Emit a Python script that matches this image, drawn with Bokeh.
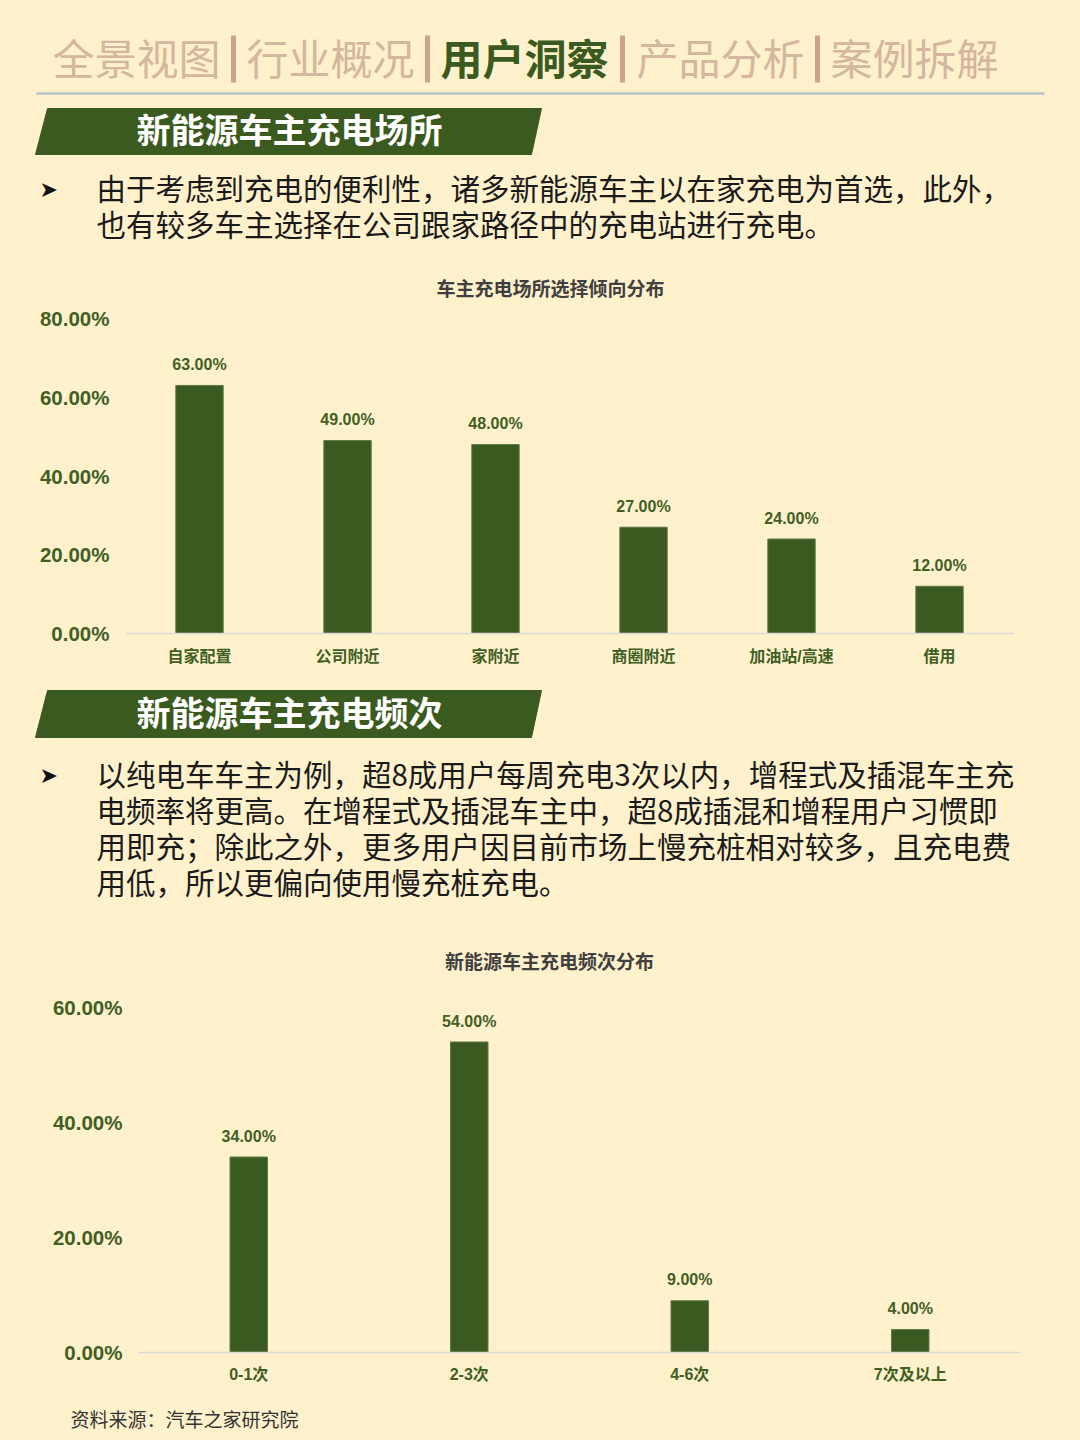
from bokeh.plotting import figure
from bokeh.layouts import column
from bokeh.models import Range1d, FactorRange, FixedTicker, PrintfTickFormatter
from bokeh.core.properties import value
from bokeh.embed import file_html
from bokeh.resources import INLINE

# ---------------- data ----------------
nav_items = ["全景视图", "行业概况", "用户洞察", "产品分析", "案例拆解"]
nav_active = "用户洞察"

section1_title = "新能源车主充电场所"
section1_text = ["由于考虑到充电的便利性，诸多新能源车主以在家充电为首选，此外，",
                 "也有较多车主选择在公司跟家路径中的充电站进行充电。"]
chart1_title = "车主充电场所选择倾向分布"
places = ["自家配置", "公司附近", "家附近", "商圈附近", "加油站/高速", "借用"]
place_share = [63, 49, 48, 27, 24, 12]
chart1_ticks = [0, 20, 40, 60, 80]

section2_title = "新能源车主充电频次"
section2_text = ["以纯电车车主为例，超8成用户每周充电3次以内，增程式及插混车主充",
                 "电频率将更高。在增程式及插混车主中，超8成插混和增程用户习惯即",
                 "用即充；除此之外，更多用户因目前市场上慢充桩相对较多，且充电费",
                 "用低，所以更偏向使用慢充桩充电。"]
chart2_title = "新能源车主充电频次分布"
freq = ["0-1次", "2-3次", "4-6次", "7次及以上"]
freq_share = [34, 54, 9, 4]
chart2_ticks = [0, 20, 40, 60]

source_text = "资料来源：汽车之家研究院"

# ---------------- styles ----------------
BG = "#FFF1CC"
GREEN = "#3B5A20"
LABEL_GREEN = "#3F5F25"
TAN_TEXT = "#D5B69E"
TAN_BAR = "#CCA588"
CJK = "Noto Sans CJK SC"
NUM = "'Liberation Sans', 'Noto Sans CJK SC'"
W = 1080


def canvas(top, bottom):
    p = figure(width=W, height=bottom - top, x_range=Range1d(0, W),
               y_range=Range1d(bottom, top), output_backend="svg",
               toolbar_location=None, x_axis_type=None, y_axis_type=None,
               min_border=0, title=None, frame_align=False)
    p.background_fill_color = None
    p.border_fill_color = BG
    p.outline_line_color = None
    return p


def banner(p, y0, y1, title):
    p.patch([47, 541, 531, 35], [y0, y0, y1, y1], color=GREEN)
    p.text(x=[136], y=[(y0 + y1) / 2 - 3], text=[title], text_font=value(CJK),
           text_font_size="34px", text_font_style="bold", text_color="white",
           text_baseline="middle", text_align="left")


def bullet_text(p, y_first, lines, step):
    p.text(x=[39], y=[y_first - 2], text=["➤"], text_font=value("DejaVu Sans"),
           text_font_size="22px", text_color="#111111",
           text_baseline="middle", text_align="left")
    ys = [y_first - 5 + i * step for i in range(len(lines))]
    p.text(x=[96] * len(lines), y=ys, text=lines, text_font=value(CJK),
           text_font_size="29.5px", text_color="#1A1A1A",
           text_baseline="middle", text_align="left")


def chart_title(p, x, y, t):
    p.text(x=[x], y=[y - 2], text=[t], text_font=value(CJK), text_font_size="19px",
           text_font_style="bold", text_color="#404040",
           text_baseline="middle", text_align="center")


def bar_chart(cats, vals, ticks, top, bottom, frame_top, frame_bottom,
              frame_left, frame_right, bar_w, x_standoff):
    p = figure(width=W, height=bottom - top, x_range=FactorRange(*cats),
               y_range=Range1d(0, ticks[-1]), output_backend="svg",
               toolbar_location=None, title=None, frame_align=False,
               min_border_top=frame_top - top, min_border_bottom=bottom - frame_bottom,
               min_border_left=frame_left, min_border_right=W - frame_right)
    p.background_fill_color = None
    p.border_fill_color = BG
    p.outline_line_color = None
    p.xgrid.grid_line_color = None
    p.ygrid.grid_line_color = None
    p.vbar(x=cats, top=vals, width=bar_w, fill_color=GREEN, line_color="#5E7C45",
           line_width=1)
    p.text(x=cats, y=vals, text=[f"{v:.2f}%" for v in vals], y_offset=-21,
           text_font=value(NUM), text_font_size="16px", text_font_style="bold",
           text_color=LABEL_GREEN, text_baseline="middle", text_align="center")
    ya = p.yaxis[0]
    ya.ticker = FixedTicker(ticks=ticks)
    ya.formatter = PrintfTickFormatter(format="%.2f%%")
    ya.axis_line_color = None
    ya.major_tick_line_color = None
    ya.minor_tick_line_color = None
    ya.major_label_standoff = 10
    ya.major_label_text_font = NUM
    ya.major_label_text_font_size = "20.5px"
    ya.major_label_text_font_style = "bold"
    ya.major_label_text_color = LABEL_GREEN
    xa = p.xaxis[0]
    xa.axis_line_color = "#D9D9D9"
    xa.axis_line_width = 1.5
    xa.major_tick_line_color = None
    xa.minor_tick_line_color = None
    xa.major_label_standoff = x_standoff
    xa.major_label_text_font = NUM
    xa.major_label_text_font_size = "16px"
    xa.major_label_text_font_style = "bold"
    xa.major_label_text_color = LABEL_GREEN
    return p


# ---------------- section A: header ----------------
pA = canvas(0, 305)
nav_x = [52, 246, 440, 636, 830]
for name, x in zip(nav_items, nav_x):
    active = name == nav_active
    pA.text(x=[x], y=[56], text=[name], text_font=value(CJK), text_font_size="42px",
            text_font_style="bold" if active else "normal",
            text_color=GREEN if active else TAN_TEXT,
            text_baseline="middle", text_align="left")
pA.segment(x0=[233, 427, 622, 817], y0=[35] * 4, x1=[233, 427, 622, 817], y1=[82] * 4,
           line_width=5, line_color=TAN_BAR)
pA.segment(x0=[36], y0=[93], x1=[1044], y1=[93], line_width=2.5, line_color="#B8C2CA")
banner(pA, 108, 154, section1_title)
bullet_text(pA, 191, section1_text, 36)
chart_title(pA, 550, 289, chart1_title)

# ---------------- section B: chart 1 ----------------
p1 = bar_chart(places, place_share, chart1_ticks, 305, 680, 318, 633, 125, 1013, 0.32, 8)

# ---------------- section C ----------------
pC = canvas(680, 975)
banner(pC, 690, 737, section2_title)
bullet_text(pC, 777, section2_text, 36)
chart_title(pC, 549, 962, chart2_title)

# ---------------- section D: chart 2 ----------------
p2 = bar_chart(freq, freq_share, chart2_ticks, 975, 1395, 1007, 1352, 138, 1020, 0.17, 7)

# ---------------- section E: source ----------------
pE = canvas(1395, 1440)
pE.text(x=[70], y=[1418], text=[source_text], text_font=value(CJK),
        text_font_size="19px", text_color="#333333",
        text_baseline="middle", text_align="left")

p = column(pA, p1, pC, p2, pE, spacing=0, styles={"background-color": BG})

open("out.html", "w").write(file_html(p, INLINE))
